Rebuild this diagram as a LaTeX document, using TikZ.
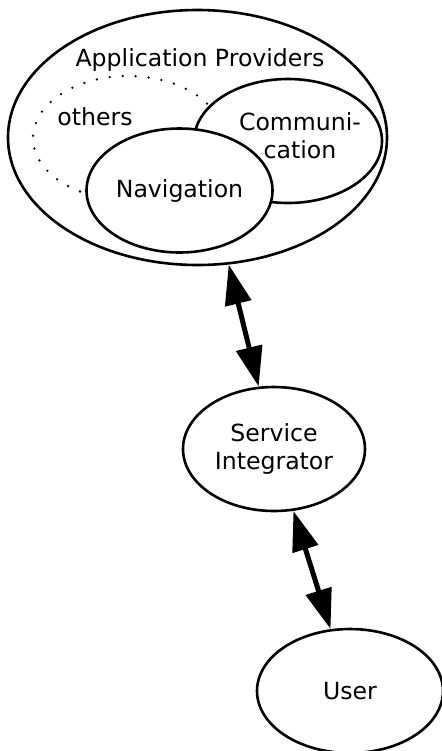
\documentclass[tikz,border=0pt]{standalone}
\usepackage{fontspec}
\setmainfont{DejaVu Sans}
\usetikzlibrary{shapes,arrows.meta}
\tikzstyle{group} = [draw, ellipse, line width=1.3pt,
    minimum width=189.5pt, minimum height=127.5pt]
\tikzstyle{bubble} = [draw, ellipse, line width=1.3pt, fill=white,
    inner sep=0pt, minimum width=93pt, minimum height=62pt, align=center]
\tikzstyle{loose} = [bubble, dash pattern=on 0pt off 6.5pt, line cap=round]
\tikzstyle{caption} = [inner sep=0pt, align=center]
\tikzstyle{line} = [draw, line width=2.5pt,
    {Triangle[length=20pt,width=13pt]}-{Triangle[length=20pt,width=13pt]}]

\begin{document}
\begin{tikzpicture}[x=0.5pt, y=-0.5pt, font=\fontsize{11.8}{14}\selectfont]
  \useasboundingbox (0,0) rectangle (442,751);
  % Place nodes
  \node [group] (apps) at (197.5,137.5) {};
  \node [caption] (appstext) at (200,60) {Application Providers};
  \node [loose, minimum width=95pt] (others) at (128,138) {};
  \node [caption] (otherstext) at (95,117) {others};
  \node [bubble, minimum width=94pt] (comm) at (288,141) {};
  \node [caption] (commtext) at (300,136) {Communi-\\cation};
  \node [bubble] (nav) at (179.5,190.5) {Navigation};

  \node [bubble, minimum width=91pt] (si) at (274,449) {Service\\Integrator};
  \node [bubble] (user) at (350,691) {User};

  %paths
  \path [line] (apps) -- (si);
  \path [line] (si) -- (user);
\end{tikzpicture}
\end{document}
